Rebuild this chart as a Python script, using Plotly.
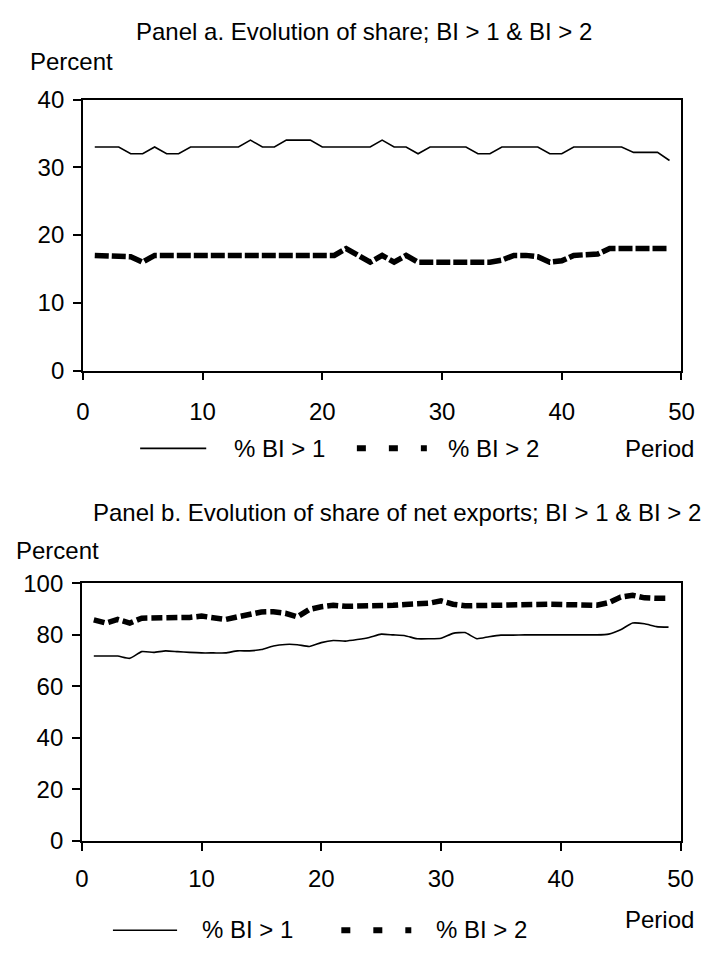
import plotly.graph_objects as go

# ---------------- data ----------------
periods = list(range(1, 50))

# Panel a: share (%)
share_bi1 = [33, 33, 33, 32, 32, 33, 32, 32, 33, 33,
             33, 33, 33, 34, 33, 33, 34, 34, 34, 33,
             33, 33, 33, 33, 34, 33, 33, 32, 33, 33,
             33, 33, 32, 32, 33, 33, 33, 33, 32, 32,
             33, 33, 33, 33, 33, 32.2, 32.2, 32.2, 31]
share_bi2 = [17, 17, 17, 16.8, 16, 17, 17, 17, 17, 17,
             17, 17, 17, 17, 17, 17, 17, 17, 17, 17,
             17, 18, 17, 16, 17, 16, 17, 16, 16, 16,
             16, 16, 16, 16, 16.3, 17, 17, 16.8, 16, 16.2,
             17, 17, 17.2, 18, 18, 18, 18, 18, 18]

# Panel b: share of net exports (%)
exports_bi1 = [71.8, 71.8, 71.8, 70.9, 73.5, 73.2, 73.8, 73.5, 73.2, 73.0,
               73.0, 73.0, 73.8, 73.8, 74.3, 75.7, 76.3, 76.2, 75.5, 77.0,
               77.8, 77.6, 78.2, 79.0, 80.3, 80.0, 79.7, 78.5, 78.5, 78.7,
               80.6, 80.9, 78.5, 79.3, 79.9, 79.9, 80.0, 80.0, 80.0, 80.0,
               80.0, 80.0, 80.0, 80.3, 82.0, 84.6, 84.3, 83.2, 83.0]
exports_bi2 = [85.8, 84.6, 86.0, 84.6, 86.5, 86.5, 86.8, 86.5, 86.8, 87.3,
               86.5, 86.0, 87.0, 88.0, 88.9, 89.0, 88.4, 87.0, 89.9, 90.9,
               91.5, 91.1, 91.1, 91.1, 91.1, 91.5, 91.8, 91.8, 92.3, 93.2,
               91.9, 91.3, 91.3, 91.6, 91.5, 91.4, 91.5, 91.8, 91.9, 91.8,
               91.8, 91.3, 91.5, 92.5, 94.7, 95.4, 94.4, 94.2, 94.2]

x_ticks = [0, 10, 20, 30, 40, 50]
ya_ticks = [0, 10, 20, 30, 40]
yb_ticks = [0, 20, 40, 60, 80, 100]

label_bi1 = "% BI > 1"
label_bi2 = "% BI > 2"
title_a = "Panel a. Evolution of share; BI > 1 & BI > 2"
title_b = "Panel b. Evolution of share of net exports; BI > 1 & BI > 2"

# ---------------- figure ----------------
W, H = 711, 953
FONT = "Liberation Sans, Arial, Helvetica, sans-serif"
FS = 24

def px(x):
    return x / W

def py(y):
    return 1 - y / H

fig = go.Figure()
fig.add_trace(go.Scatter(x=periods, y=share_bi1, mode="lines", name=label_bi1,
                         line=dict(color="black", width=1.6), xaxis="x", yaxis="y"))
fig.add_trace(go.Scatter(x=periods, y=share_bi2, mode="lines", name=label_bi2,
                         line=dict(color="black", width=5.5, dash="14px,3px"), xaxis="x", yaxis="y"))
fig.add_trace(go.Scatter(x=periods, y=exports_bi1, mode="lines", name=label_bi1,
                         line=dict(color="black", width=1.6, shape="spline", smoothing=0.5),
                         xaxis="x2", yaxis="y2"))
fig.add_trace(go.Scatter(x=periods, y=exports_bi2, mode="lines", name=label_bi2,
                         line=dict(color="black", width=5.5, dash="11px,4px"),
                         xaxis="x2", yaxis="y2"))

axis_common = dict(showline=True, linecolor="black", linewidth=1.5, mirror=True,
                   ticks="outside", ticklen=8, tickwidth=1.5, tickcolor="black",
                   showgrid=False, zeroline=False,
                   tickfont=dict(family=FONT, size=FS, color="black"))

fig.update_layout(
    width=W, height=H,
    margin=dict(l=0, r=0, t=0, b=0),
    paper_bgcolor="white", plot_bgcolor="white",
    showlegend=False,
    font=dict(family=FONT, size=FS, color="black"),
    xaxis=dict(domain=[px(78), px(694)], range=[0, 50], tickvals=x_ticks, anchor="y",
               ticklabelstandoff=11, **axis_common),
    yaxis=dict(domain=[py(367), py(88)], range=[0, 40], tickvals=ya_ticks, anchor="x",
               ticklabelstandoff=4, **axis_common),
    xaxis2=dict(domain=[px(77), px(693)], range=[0, 50], tickvals=x_ticks, anchor="y2",
                ticklabelstandoff=8, **axis_common),
    yaxis2=dict(domain=[py(851), py(586)], range=[0, 100], tickvals=yb_ticks, anchor="x2",
                ticklabelstandoff=4, **axis_common),
)

def text(s, x, y, xanchor="left"):
    fig.add_annotation(text=s, x=px(x), y=py(y), xref="paper", yref="paper",
                       xanchor=xanchor, yanchor="middle", showarrow=False,
                       font=dict(family=FONT, size=FS, color="black"))

def legend_line(x0, x1, y, dashed):
    if dashed:
        line = dict(color="black", width=6, dash="9px,23px")
    else:
        line = dict(color="black", width=1.6)
    fig.add_shape(type="line", x0=px(x0), x1=px(x1), y0=py(y), y1=py(y),
                  xref="paper", yref="paper", line=line)

# Panel a texts
text(title_a, 367, 18, "center")
text("Percent", 22, 49)
legend_line(137, 205, 447, False)
text(label_bi1, 231, 447)
legend_line(360, 432, 447, True)
text(label_bi2, 452, 447)
text("Period", 709, 447, "right")

# Panel b texts
text(title_b, 401, 513, "center")
text("Percent", 7, 552)
legend_line(109, 175, 943, False)
text(label_bi1, 199, 942)
legend_line(344, 416, 943, True)
text(label_bi2, 439, 942)
text("Period", 709, 932, "right")

fig.write_html("out.html")
